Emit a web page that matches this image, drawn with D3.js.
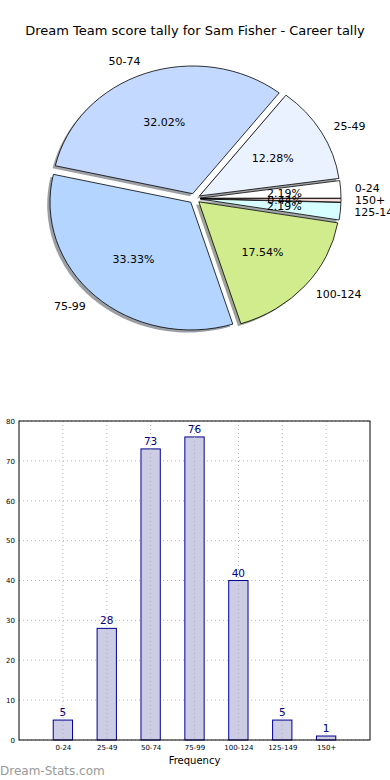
<!DOCTYPE html>
<html><head><meta charset="utf-8">
<script src="https://cdn.jsdelivr.net/npm/d3@7"></script>
<style>body{margin:0;background:#fff}svg{display:block}text{font-family:"DejaVu Sans",sans-serif}</style>
</head><body>
<script>
const categories = ["0-24","25-49","50-74","75-99","100-124","125-149","150+"];
const counts = [5,28,73,76,40,5,1];
const pieColors = ["#ffffff","#eaf1ff","#c4d9ff","#b4d5ff","#d0ec8c","#d8ffff","#ffe0e0"];
const yTicks = [0,10,20,30,40,50,60,70,80];
const title = "Dream Team score tally for Sam Fisher - Career tally";

const W=390,H=780;
const svg=d3.select("body").append("svg").attr("width",W).attr("height",H);

svg.append("text").attr("x",195).attr("y",35).attr("text-anchor","middle")
  .attr("font-size",13).attr("fill","#000").text(title);

// ---- Pie ----
const cx=194.6, cy=198.5, R=140.8, k=0.907, ex=0.04*R;
const total=d3.sum(counts);
const pie=d3.pie().sort(null).startAngle(Math.PI/2).endAngle(Math.PI/2-2*Math.PI);
const arcs=pie(counts);
const arc=d3.arc().innerRadius(0).outerRadius(R);
const pg=svg.append("g").attr("transform",`translate(${cx},${cy}) scale(1,${k})`);
function off(d){const m=(d.startAngle+d.endAngle)/2;return [ex*Math.sin(m),-ex*Math.cos(m)];}
pg.selectAll("path.sh").data(arcs).enter().append("path")
  .attr("d",arc)
  .attr("transform",d=>{const o=off(d);return `translate(${o[0]-2.8},${o[1]+2.8})`;})
  .attr("fill",(d,i)=>{const c=d3.rgb(pieColors[i]);return d3.rgb(c.r*0.3,c.g*0.3,c.b*0.3);})
  .attr("opacity",0.5);
pg.selectAll("path.w").data(arcs).enter().append("path")
  .attr("d",arc)
  .attr("transform",d=>{const o=off(d);return `translate(${o[0]},${o[1]})`;})
  .attr("fill",(d,i)=>pieColors[i]).attr("stroke","#000").attr("stroke-width",0.8)
  .attr("vector-effect","non-scaling-stroke");
arcs.forEach((d,i)=>{
  const m=(d.startAngle+d.endAngle)/2;
  const sx=Math.sin(m), sy=-Math.cos(m);
  const lx=cx+(ex+1.1*R)*sx, ly=cy+(ex+1.1*R)*sy*k;
  svg.append("text").attr("x",lx).attr("y",ly).attr("dy","0.36em")
    .attr("text-anchor",lx-cx>0?"start":"end").attr("font-size",11).text(categories[i]);
  const px=cx+(ex+0.6*R)*sx, py=cy+(ex+0.6*R)*sy*k;
  svg.append("text").attr("x",px).attr("y",py).attr("dy","0.36em")
    .attr("text-anchor","middle").attr("font-size",11)
    .text((counts[i]/total*100).toFixed(2)+"%");
});

// ---- Bar chart ----
const L=19,Rt=370,T=421,B=740;
const x=d3.scaleLinear().domain([-1,7]).range([L,Rt]);
const y=d3.scaleLinear().domain([0,80]).range([B,T]);
const bg=svg.append("g");
bg.selectAll("line.gy").data(yTicks).enter().append("line")
  .attr("x1",L).attr("x2",Rt).attr("y1",d=>y(d)).attr("y2",d=>y(d))
  .attr("stroke","#bbb").attr("stroke-width",1).attr("stroke-dasharray","1,3");
const bw=x(0.44)-x(0);
bg.selectAll("rect.b").data(counts).enter().append("rect")
  .attr("x",(d,i)=>x(i)-bw/2).attr("y",d=>y(d)).attr("width",bw).attr("height",d=>B-y(d))
  .attr("fill","#ccccE4").attr("stroke","#000090").attr("stroke-width",1);
bg.selectAll("line.gx").data(categories).enter().append("line")
  .attr("x1",(d,i)=>x(i)).attr("x2",(d,i)=>x(i)).attr("y1",T).attr("y2",B)
  .attr("stroke","#b0b0b0").attr("stroke-width",1).attr("stroke-dasharray","1,3");
bg.selectAll("text.v").data(counts).enter().append("text")
  .attr("x",(d,i)=>x(i)).attr("y",d=>y(d)-4).attr("text-anchor","middle")
  .attr("font-size",10.5).attr("fill","#000080").text(d=>d);
bg.append("rect").attr("x",L).attr("y",T).attr("width",Rt-L).attr("height",B-T)
  .attr("fill","none").attr("stroke","#000").attr("stroke-width",1);
const ya=d3.axisLeft(y).tickValues(yTicks).tickSize(0).tickPadding(4);
const yg=bg.append("g").attr("transform",`translate(${L},0)`).call(ya);
yg.select(".domain").remove();
yg.selectAll("text").attr("font-size",7).attr("font-family","DejaVu Sans");
const xa=d3.axisBottom(x).tickValues(d3.range(categories.length)).tickFormat(i=>categories[i]).tickSize(0).tickPadding(5);
const xg=bg.append("g").attr("transform",`translate(0,${B})`).call(xa);
xg.select(".domain").remove();
xg.selectAll("text").attr("font-size",7).attr("font-family","DejaVu Sans");
bg.append("text").attr("x",(L+Rt)/2).attr("y",764).attr("text-anchor","middle")
  .attr("font-size",10).text("Frequency");
svg.append("text").attr("x",0).attr("y",775).attr("font-size",12).attr("fill","#999")
  .text("Dream-Stats.com");
</script>
</body></html>
